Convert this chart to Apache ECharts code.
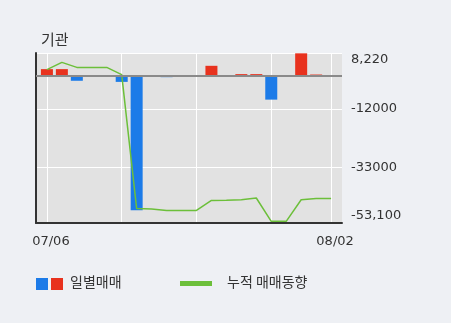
<!DOCTYPE html>
<html>
<head>
<meta charset="utf-8">
<script src="https://cdn.jsdelivr.net/npm/echarts@6/dist/echarts.min.js"></script>
<style>
html,body{margin:0;padding:0;background:#eef0f4;}
#c{width:451px;height:323px;}
</style>
</head>
<body>
<div id="c"></div>
<script>
var dates = ['07/06','07/07','07/08','07/09','07/12','07/13','07/14','07/15','07/16','07/19','07/20','07/21','07/22','07/23','07/26','07/27','07/28','07/29','07/30','08/02'];
var daily = [2400, 2400, -1800, 0, 0, -2200, -48500, -150, -500, 0, 0, 3600, 0, 600, 600, -8600, 0, 8100, 450, 0];
var cumulative = [2200, 4830, 3030, 3030, 3030, 400, -47900, -48050, -48560, -48560, -48560, -44950, -44900, -44700, -44080, -52500, -52500, -44700, -44230, -44230];
var yTicks = [8220, -12000, -33000, -53100];
var yTickLabels = ['8,220', '-12000', '-33000', '-53,100'];
var yGridValues = [8220, -12000, -33000];
var xGridIdx = [0, 5, 10, 15, 19];
var xLabelIdx = [0, 19];

var chart = echarts.init(document.getElementById('c'));
var font = '"Noto Sans CJK KR", "Noto Sans", sans-serif';
var numFont = '"DejaVu Sans", sans-serif';
chart.setOption({
  backgroundColor: '#eef0f4',
  animation: false,
  textStyle: {fontFamily: font},
  title: {text: '기관', left: 36, top: 27, textStyle: {fontSize: 15, fontWeight: 'normal', color: '#333', fontFamily: font}},
  grid: {left: 36, right: 109, top: 53, bottom: 100, show: true, backgroundColor: '#e2e2e2', borderWidth: 0},
  xAxis: {
    type: 'value', min: -0.73, max: 19.73,
    axisLine: {show: true, onZero: false, lineStyle: {color: '#333', width: 2}},
    axisTick: {show: false, customValues: xGridIdx},
    splitLine: {show: true, lineStyle: {color: '#ffffff', width: 1}},
    axisLabel: {
      customValues: xLabelIdx, margin: 12, color: '#333', fontSize: 13, fontFamily: numFont,
      formatter: function (v) { return '{a|' + dates[Math.round(v)] + '}'; },
      rich: {a: {padding: [0, 0, 0, 8], fontSize: 13, color: '#333', fontFamily: numFont}}
    }
  },
  yAxis: [{
    type: 'value', position: 'right', min: -53100, max: 8220,
    axisLine: {show: false},
    axisTick: {show: false, customValues: yGridValues},
    splitLine: {show: true, lineStyle: {color: '#ffffff', width: 1}},
    axisLabel: {
      customValues: yTicks, margin: 9, color: '#333', fontSize: 13, fontFamily: numFont,
      formatter: function (v) {
        var i = yTicks.indexOf(v);
        var s = i >= 0 ? yTickLabels[i] : '';
        if (i === 0) return '{t|' + s + '}';
        if (i === yTicks.length - 1) return '{b|' + s + '}';
        return '{m|' + s + '}';
      },
      rich: {
        t: {padding: [13, 0, 0, 0], fontSize: 13, color: '#333', fontFamily: numFont},
        b: {padding: [0, 0, 14, 0], fontSize: 13, color: '#333', fontFamily: numFont},
        m: {fontSize: 13, color: '#333', fontFamily: numFont}
      }
    }
  }, {
    type: 'value', position: 'left', min: -53100, max: 8220,
    axisLine: {show: true, lineStyle: {color: '#333', width: 2}},
    axisTick: {show: false}, splitLine: {show: false}, axisLabel: {show: false}
  }],
  series: [{
    name: '일별매매', type: 'bar', barWidth: 12,
    data: daily.map(function (v, i) { return [i, v]; }),
    itemStyle: {color: function (p) { return p.value[1] >= 0 ? '#e8321e' : '#1c7be8'; }},
    markLine: {
      symbol: 'none', silent: true, label: {show: false},
      lineStyle: {color: '#8a8a8a', width: 2, type: 'solid'},
      data: [{yAxis: 0}]
    },
    z: 2
  }, {
    name: '누적 매매동향', type: 'line', symbol: 'none',
    data: cumulative.map(function (v, i) { return [i, v]; }),
    lineStyle: {color: '#6cbf3a', width: 1.5},
    itemStyle: {color: '#6cbf3a'},
    z: 3
  }],
  graphic: [
    {type: 'rect', left: 36, top: 278, shape: {width: 12, height: 12}, style: {fill: '#1c7be8'}},
    {type: 'rect', left: 51, top: 278, shape: {width: 12, height: 12}, style: {fill: '#e8321e'}},
    {type: 'text', left: 70, top: 275, style: {text: '일별매매', fill: '#333', font: '14px ' + font}},
    {type: 'rect', left: 180, top: 281, shape: {width: 32, height: 5}, style: {fill: '#6cbf3a'}},
    {type: 'text', left: 227, top: 275, style: {text: '누적 매매동향', fill: '#333', font: '14px ' + font}}
  ]
});
</script>
</body>
</html>
